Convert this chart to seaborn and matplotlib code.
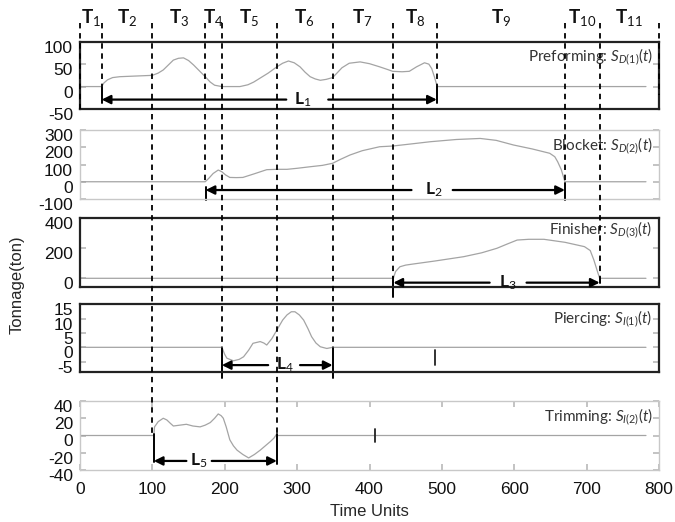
import numpy as np
import pandas as pd
import matplotlib
matplotlib.use("Agg")
import matplotlib.pyplot as plt
import matplotlib.transforms as mtrans
import seaborn as sns

# ---------------- data ----------------
boundaries = [0, 30, 100, 173, 196, 272, 349, 432, 493, 670, 718, 800]
phase_numbers = ["1", "2", "3", "4", "5", "6", "7", "8", "9", "10", "11"]
dash_bottom_px = [109, 88, 434, 182, 347, 434, 347, 278, 87, 182, 278, 95]

preform_t = [0, 30, 33, 38, 45, 55, 70, 85, 100, 108, 115, 122, 129, 136, 143, 150, 157, 165,
             173, 180, 186, 196, 221, 232, 240, 250, 260, 272, 280, 288, 296, 304, 311, 318,
             325, 332, 340, 349, 355, 362, 372, 387, 400, 414, 425, 432, 445, 455, 465, 476,
             482, 486, 490, 493, 495, 782]
preform_v = [0, 0, 8, 15, 20, 22, 23, 24, 25, 30, 37, 48, 59, 63, 64, 58, 48, 35,
             22, 10, 3, 0, 0, 4, 10, 20, 30, 44, 52, 57, 53, 44, 32, 22,
             17, 14, 16, 20, 30, 42, 52, 55, 51, 44, 38, 34, 33, 34, 44, 53,
             50, 40, 20, 3, 0, 0]

blocker_t = [0, 173, 178, 184, 191, 196, 201, 207, 216, 225, 240, 258, 272, 286, 300, 318, 335,
             349, 360, 373, 390, 414, 432, 455, 484, 520, 553, 575, 599, 625, 649, 656, 660,
             665, 670, 782]
blocker_v = [0, 0, 20, 48, 68, 58, 40, 25, 24, 25, 45, 70, 72, 72, 78, 87, 95,
             107, 130, 155, 180, 203, 207, 218, 232, 245, 251, 240, 213, 190, 165, 145, 116,
             70, 0, 0]

finisher_t = [0, 433, 436, 442, 450, 460, 490, 530, 555, 576, 590, 604, 620, 641, 670, 697,
              705, 710, 714, 718, 782]
finisher_v = [0, 0, 45, 77, 88, 95, 115, 144, 170, 200, 228, 255, 260, 260, 240, 211,
              185, 122, 60, 0, 0]

piercing_t = [0, 196, 200, 203, 212, 220, 226, 233, 239, 249, 254, 258, 265, 272, 280, 286,
              292, 297, 303, 309, 315, 320, 326, 332, 341, 349, 782]
piercing_v = [0, 0, -2.5, -3.8, -4.7, -4.2, -3.3, -1, 1.4, 2, 1.5, 0.8, 3, 6, 9.5, 11.3,
              12.4, 12.4, 11.3, 9.5, 6.5, 3.7, 1.5, 0.2, -0.4, 0, 0]

trimming_t = [0, 102, 103, 108, 115, 120, 125, 129, 138, 147, 156, 166, 173, 180, 186, 191,
              195, 198, 202, 207, 212, 217, 225, 233, 241, 249, 256, 263, 268, 272, 273, 782]
trimming_v = [0, 0, 10, 16, 20, 18, 14, 11, 12, 13, 11, 10, 12, 15, 20, 25,
              23, 20, 10, -5, -12, -17, -22, -26, -22, -17, -12, -7, -3, 2, 0, 0]

panel_titles = ["Preforming: $S_{D(1)}(t)$", "Blocket: $S_{D(2)}(t)$",
                "Finisher: $S_{D(3)}(t)$", "Piercing: $S_{I(1)}(t)$",
                "Trimming: $S_{I(2)}(t)$"]
y_limits = [(-50, 100), (-100, 300), (-56, 400), (-8.5, 15), (-40, 40)]
y_ticks = [[-50, 0, 50, 100], [-100, 0, 100, 200, 300], [0, 200, 400],
           [-5, 0, 5, 10, 15], [-40, -20, 0, 20, 40]]
x_ticks = [0, 100, 200, 300, 400, 500, 600, 700, 800]

arrow_names = ["1", "2", "3", "4", "5"]
arrow_start = [30, 173.6, 433, 196, 102]
arrow_end = [493, 670, 718, 349, 272]
arrow_y = [-29, -48, -29, -6.2, -29.5]
arrow_gap_lo = [285, 458, 566, 260, 147]
arrow_gap_hi = [343, 515, 617, 304, 182]
arrow_label_x = [308, 489, 591, 283, 164]
bar_start_range = [(-3, -37), (-29, -106), (10, -122), (-0.3, -10.8), (2.3, -30.6)]
bar_end_range = [(0, -37), (-7, -106), (0, -33), (-0.3, -10.8), (2.3, -32.5)]

mark_x = [None, None, None, 490, 408]
mark_range = [None, None, None, (-0.9, -6.2), (8, -7.5)]

# ---------------- style ----------------
sns.set_theme(style="white")
plt.rcParams["font.family"] = ["Liberation Sans", "DejaVu Sans"]
plt.rcParams["axes.unicode_minus"] = False
plt.rcParams["mathtext.fontset"] = "custom"
plt.rcParams["mathtext.rm"] = "Lato"
plt.rcParams["mathtext.it"] = "Lato:italic"
plt.rcParams["mathtext.bf"] = "Lato:bold"

W, H = 675, 522
fig = plt.figure(figsize=(W / 100, H / 100), dpi=100)
left_px, right_px = 80, 659
panel_px = [(41.7, 109), (130, 199), (218.3, 286.7), (304.3, 371.7), (401, 470)]
thick = [True, False, True, True, False]

curves = [(preform_t, preform_v), (blocker_t, blocker_v), (finisher_t, finisher_v),
          (piercing_t, piercing_v), (trimming_t, trimming_v)]

offset = mtrans.ScaledTranslation(0, -5 / 100, fig.dpi_scale_trans)
axes = []
for i, (top, bot) in enumerate(panel_px):
    ax = fig.add_axes([left_px / W, 1 - bot / H, (right_px - left_px) / W, (bot - top) / H])
    axes.append(ax)
    t, v = curves[i]
    df = pd.DataFrame({"t": t, "v": v})
    sns.lineplot(data=df, x="t", y="v", ax=ax, color="#a4a4a4", lw=0.9,
                 estimator=None, sort=False, legend=False)
    ax.set_xlim(0, 800)
    ax.set_ylim(*y_limits[i])
    ax.set_yticks(y_ticks[i])
    ax.set_xlabel("")
    ax.set_ylabel("")
    ax.tick_params(axis="y", direction="in", left=True, right=True, length=4,
                   color="#bbbbbb", labelsize=12.5, pad=5, labelcolor="#111111")
    for lab in ax.get_yticklabels():
        lab.set_transform(lab.get_transform() + offset)
    if i == 4:
        ax.set_xticks(x_ticks)
        ax.tick_params(axis="x", direction="in", bottom=True, top=True, length=4,
                       color="#bbbbbb", labelsize=12.5, pad=9, labelcolor="#111111")
    else:
        ax.set_xticks([])
    for s in ax.spines.values():
        if thick[i]:
            s.set_color("#222222")
            s.set_linewidth(1.6)
        else:
            s.set_color("#c8c8c8")
            s.set_linewidth(1.0)
    ax.text(0.989, 0.78 if i != 2 else 0.83, panel_titles[i], transform=ax.transAxes,
            ha="right", va="center", fontsize=11, color="#333333", family="Lato")

    # arrows
    y = arrow_y[i]
    akw = dict(arrowstyle="-|>", mutation_scale=13, lw=1.6, color="black",
               shrinkA=0, shrinkB=0)
    ax.annotate("", xy=(arrow_start[i], y), xytext=(arrow_gap_lo[i], y),
                arrowprops=akw, annotation_clip=False)
    ax.annotate("", xy=(arrow_end[i], y), xytext=(arrow_gap_hi[i], y),
                arrowprops=akw, annotation_clip=False)
    ax.plot([arrow_start[i]] * 2, bar_start_range[i], color="black", lw=1.4, clip_on=False)
    ax.plot([arrow_end[i]] * 2, bar_end_range[i], color="black", lw=1.4, clip_on=False)
    ax.text(arrow_label_x[i], y, r"$\mathbf{L}_{%s}$" % arrow_names[i], ha="center",
            va="center", fontsize=12.5, color="#111111")
    if mark_x[i] is not None:
        ax.plot([mark_x[i]] * 2, mark_range[i], color="#222222", lw=1.3)

axes[4].set_xlabel("Time Units", fontsize=12, labelpad=5)

fig.text(17 / W, 1 - 285 / H, "Tonnage(ton)", rotation=90, ha="center", va="center",
         fontsize=12)

# overlay for dashed phase lines and T labels
ov = fig.add_axes([left_px / W, 0, (right_px - left_px) / W, 1], facecolor="none")
ov.set_xlim(0, 800)
ov.set_ylim(H, 0)
ov.axis("off")
for x, yb in zip(boundaries, dash_bottom_px):
    ov.plot([x, x], [23, yb], color="black", lw=1.3, ls=(0, (3, 2.6)), clip_on=False)
for k, n in enumerate(phase_numbers):
    xm = (boundaries[k] + boundaries[k + 1]) / 2
    ov.text(xm, 17, r"$\mathbf{T}_{%s}$" % n, ha="center", va="center", fontsize=13.5,
            color="#111111")

fig.savefig("out.png", dpi=100)
